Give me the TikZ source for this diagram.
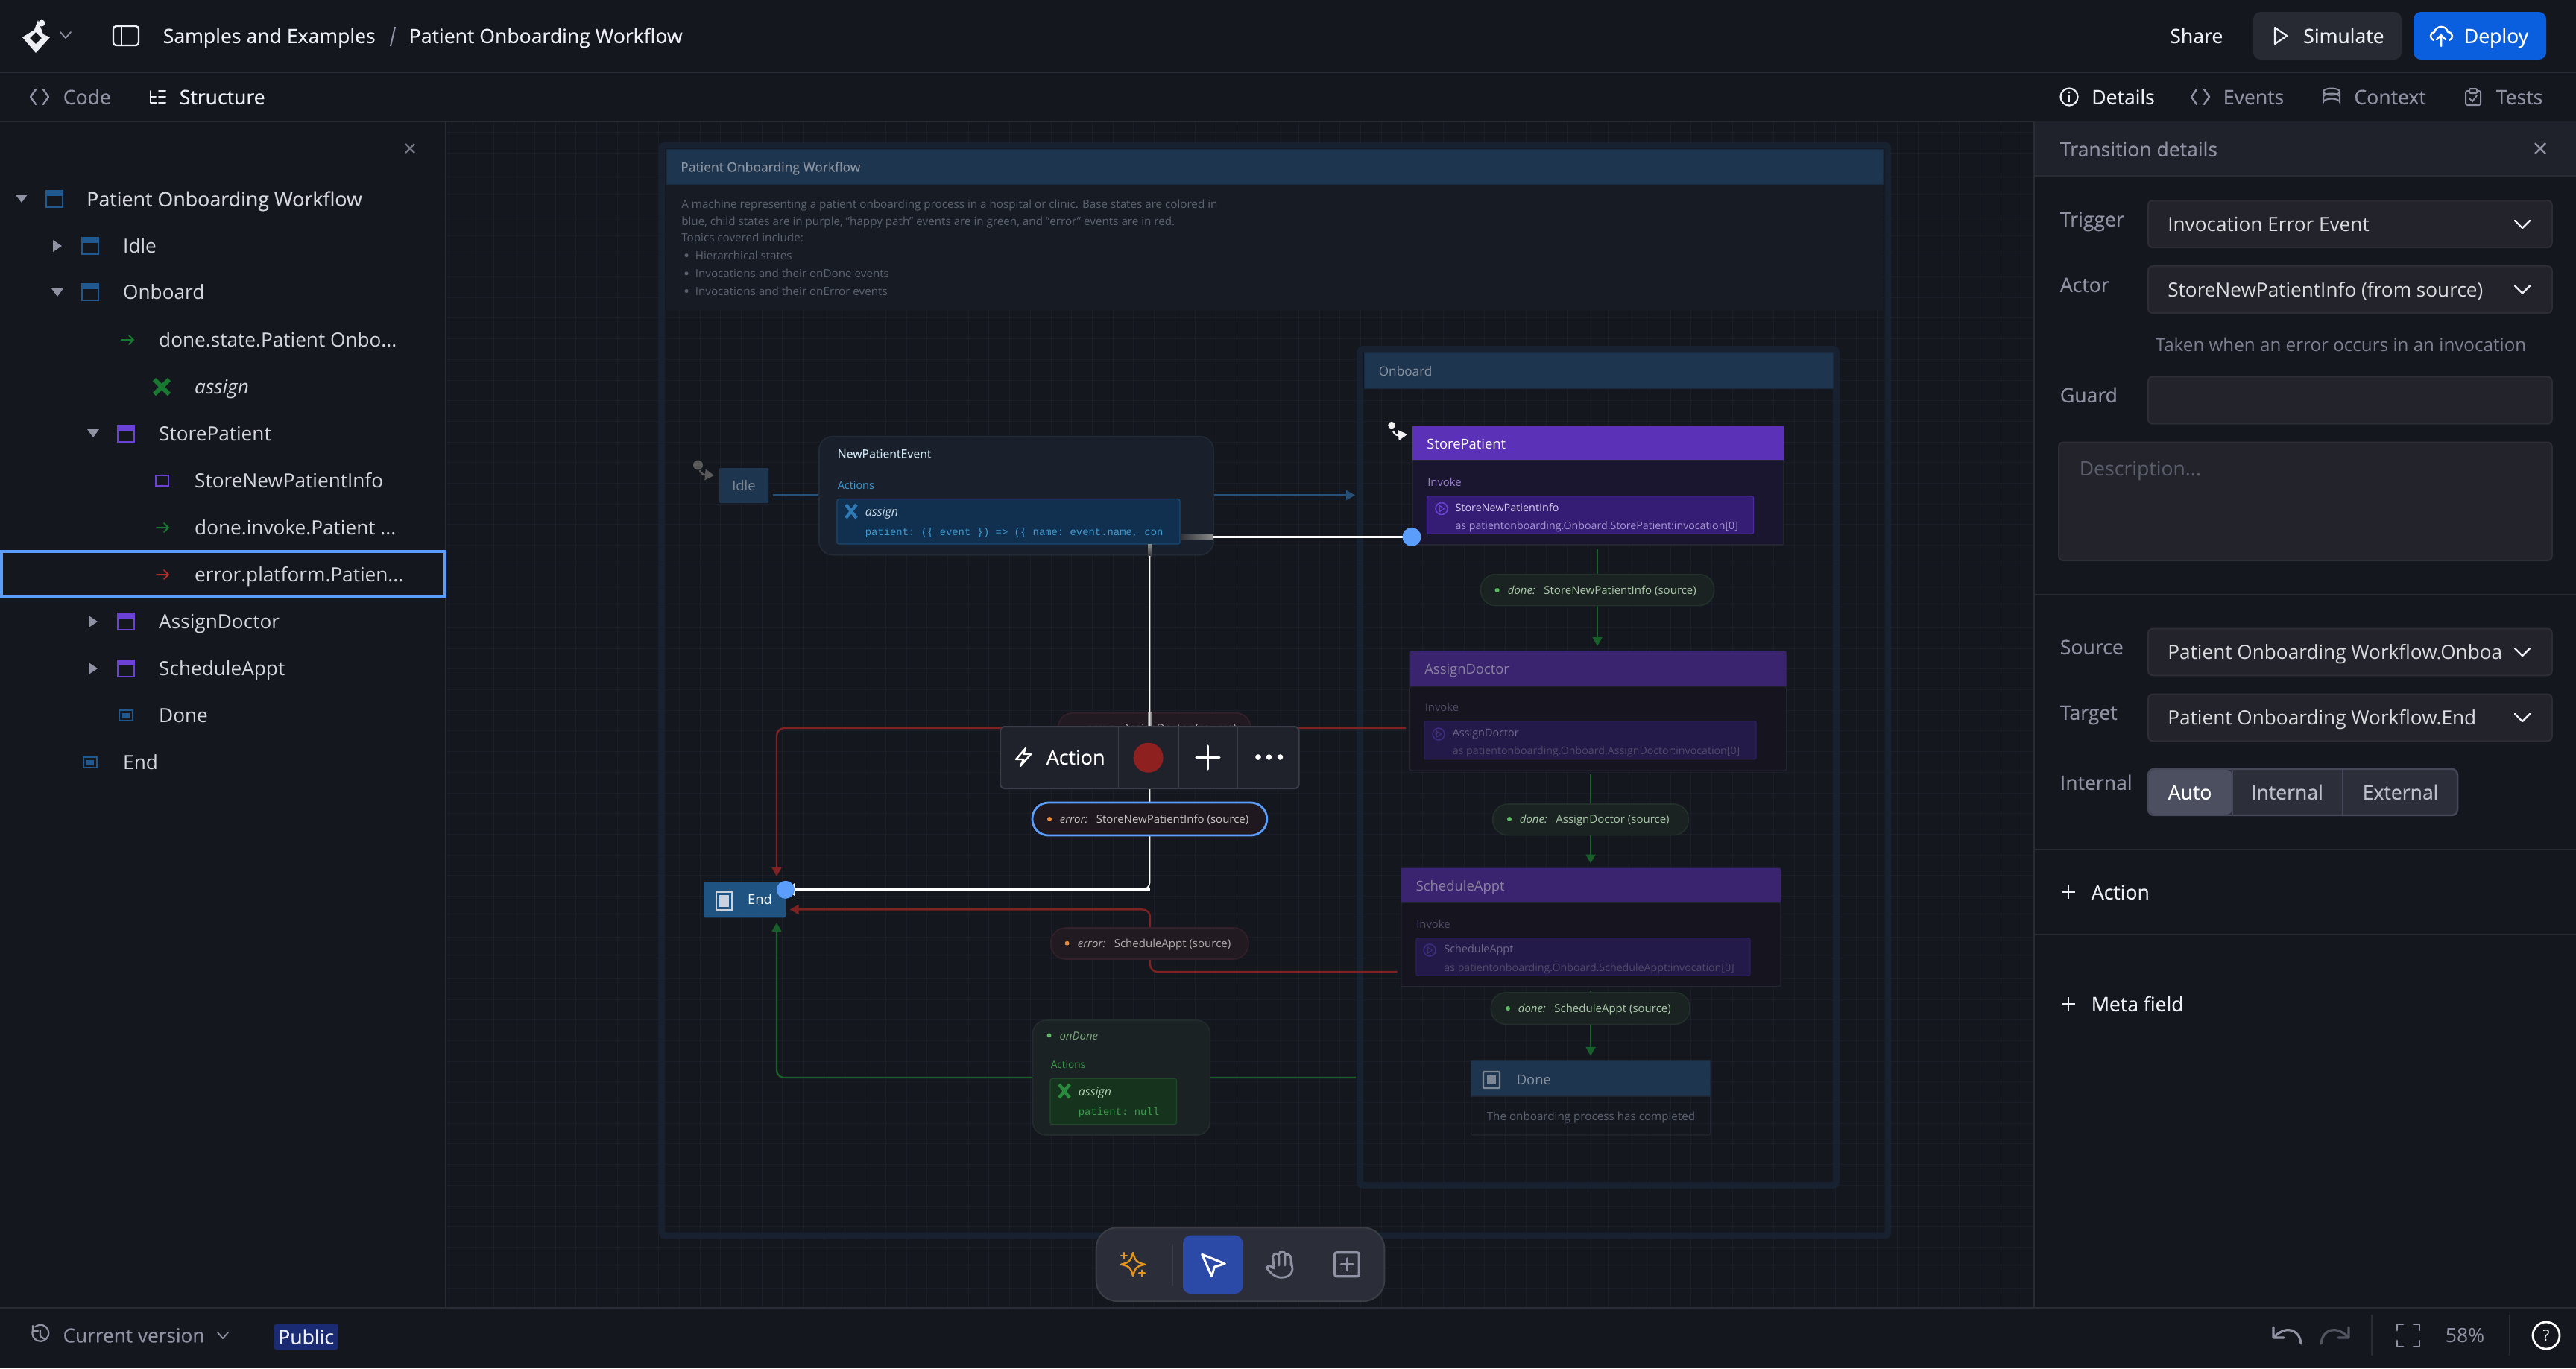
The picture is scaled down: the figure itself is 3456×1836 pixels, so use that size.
\documentclass[tikz,border=0pt]{standalone}
\usepackage{fontspec}
\setmainfont{Open Sans}
\setmonofont{Liberation Mono}
\newfontfamily\medfont[FakeBold=0.35]{Open Sans}
\usetikzlibrary{arrows.meta}

% palette
\definecolor{bgdark}{HTML}{15171F}
\definecolor{gridline}{HTML}{1B1E28}
\definecolor{panelline}{HTML}{2A2C35}
\definecolor{headbar}{HTML}{20222B}
\definecolor{fieldbg}{HTML}{23242B}
\definecolor{fieldline}{HTML}{2C2D35}
\definecolor{uiwhite}{HTML}{EDEFF4}
\definecolor{uidim}{HTML}{8E92A3}
\definecolor{uiholder}{HTML}{5A5D6B}
\definecolor{uihelp}{HTML}{7D8191}
\definecolor{uiblue}{HTML}{5B9DFA}
\definecolor{treeblue}{HTML}{20598F}
\definecolor{treepurple}{HTML}{6A42D8}
\definecolor{treegreen}{HTML}{177A30}
\definecolor{treered}{HTML}{B52B2B}
\definecolor{framedim}{HTML}{182130}
\definecolor{headblue}{HTML}{1E3550}
\definecolor{headtext}{HTML}{8A939F}
\definecolor{descbg}{HTML}{171B24}
\definecolor{desctext}{HTML}{5B6370}
\definecolor{edgeblue}{HTML}{265078}
\definecolor{edgered}{HTML}{7E2222}
\definecolor{edgegreen}{HTML}{17602A}
\definecolor{purplehead}{HTML}{5B31B8}
\definecolor{purplebody}{HTML}{1B1630}
\definecolor{purplebox}{HTML}{351C75}
\definecolor{purpleline}{HTML}{4A2CA0}
\definecolor{purpletext}{HTML}{9A80D0}
\definecolor{purplesub}{HTML}{A597D2}
\definecolor{purpleactor}{HTML}{D7CDF0}
\definecolor{dimhead}{HTML}{3A2470}
\definecolor{dimbody}{HTML}{16151F}
\definecolor{dimbox}{HTML}{241A4A}
\definecolor{dimline}{HTML}{2D2060}
\definecolor{dimtext}{HTML}{4F4A66}
\definecolor{dimtitle}{HTML}{8A84A0}
\definecolor{dimactor}{HTML}{6E6788}
\definecolor{dimplay}{HTML}{3F2C80}
\definecolor{bodyline}{HTML}{232530}
\definecolor{eventbg}{HTML}{1A202B}
\definecolor{eventline}{HTML}{222A36}
\definecolor{eventtitle}{HTML}{CFE4F2}
\definecolor{actionblue}{HTML}{3F9BD1}
\definecolor{assignbg}{HTML}{11304F}
\definecolor{assignline}{HTML}{1B4A73}
\definecolor{assignx}{HTML}{2F7AB5}
\definecolor{assigntext}{HTML}{C9D7E3}
\definecolor{pilldonebg}{HTML}{1A2321}
\definecolor{pilldoneline}{HTML}{222F2A}
\definecolor{pilldonetext}{HTML}{A9C9A9}
\definecolor{pillerrbg}{HTML}{211A20}
\definecolor{pillerrline}{HTML}{33202A}
\definecolor{pillerrtext}{HTML}{B4ACAF}
\definecolor{pillseltext}{HTML}{C9C4C6}
\definecolor{pillselbg}{HTML}{1F191F}
\definecolor{dotgreen}{HTML}{5DBB63}
\definecolor{dotorange}{HTML}{E88A3A}
\definecolor{ondonebg}{HTML}{1B2224}
\definecolor{ondoneline}{HTML}{232C2C}
\definecolor{ondonetext}{HTML}{7FA87F}
\definecolor{actiongreen}{HTML}{3D9A4D}
\definecolor{nullbg}{HTML}{16341D}
\definecolor{nullline}{HTML}{1E4A29}
\definecolor{nullx}{HTML}{2A8A3E}
\definecolor{nulltext}{HTML}{B0D0B0}
\definecolor{endblue}{HTML}{1F5482}
\definecolor{endicon}{HTML}{C9D2DE}
\definecolor{doneicon}{HTML}{7E8794}
\definecolor{barline}{HTML}{3A3D48}
\definecolor{stopred}{HTML}{8F2020}
\definecolor{toolbg}{HTML}{2B2D38}
\definecolor{toolline}{HTML}{3C3D44}
\definecolor{toolblue}{HTML}{2B4AA8}
\definecolor{sparkle}{HTML}{E3941C}
\definecolor{simulatebg}{HTML}{282A33}
\definecolor{deployblue}{HTML}{0A5FDF}
\definecolor{badgeblue}{HTML}{1A2A73}
\definecolor{segbg}{HTML}{2C2E3A}
\definecolor{segline}{HTML}{454859}
\definecolor{segon}{HTML}{4B4F60}
\definecolor{segtext}{HTML}{BDBFCA}

\tikzset{
  fs/.style={font=\fontsize{#1}{#1}\selectfont, text height=0.87*#1pt, text depth=0.13*#1pt},
  lbl/.style={anchor=west, inner sep=0pt, text=uiwhite, fs=6.65},
  med/.style={execute at begin node=\medfont},
  treelabel/.style={lbl, fs=6.55, text=uiwhite!90!black, xshift=-.4pt},
  fieldlabel/.style={lbl, text=uidim, med},
  fieldvalue/.style={lbl, fs=6.55, text=uiwhite!92!black, xshift=-.3pt},
  sized/.style 2 args={minimum width=#1*0.25pt, minimum height=#2*0.25pt, inner sep=0pt, outer sep=0pt, anchor=north west},
  fieldbox/.style={draw=fieldline, fill=fieldbg, rounded corners=1.5pt, line width=.5pt},
  stateframe/.style={draw=framedim, line width=2.2pt, rounded corners=1pt},
  bluehead/.style={fill=headblue, draw=headblue!80!black, line width=.25pt},
  purphead/.style={fill=purplehead, rounded corners=.3pt},
  dimpurphead/.style={fill=dimhead, rounded corners=.3pt},
  actionbox/.style={rounded corners=4.5pt, line width=.4pt},
  pilldone/.style={fill=pilldonebg, draw=pilldoneline, line width=.4pt, rounded corners=5pt},
  pillerror/.style={fill=pillerrbg, draw=pillerrline, line width=.4pt, rounded corners=5pt},
  donetext/.style={lbl, fs=3.75, text=pilldonetext},
  errortext/.style={lbl, fs=3.75, text=pillerrtext},
  edgetip/.style={-{Triangle[length=3pt,width=3.2pt]}},
  edgered/.style={draw=edgered, line width=.6pt, rounded corners=2.5pt, edgetip},
  edgegreen/.style={draw=edgegreen, line width=.6pt, rounded corners=2.5pt, edgetip},
  edgeplain/.style={draw=#1, line width=.6pt},
  selected/.style={draw=white, line width=.7pt, rounded corners=2.5pt},
  icon/.style={line width=.6pt, line cap=round, line join=round},
}

\newcommand{\stateicon}[3]{%
  \draw[#3, line width=.6pt] (#1-11,#2-11) rectangle (#1+11,#2+11);
  \fill[#3] (#1-12,#2-12) rectangle (#1+12,#2-4);
}
\newcommand{\finalicon}[3]{%
  \draw[#3, line width=.6pt] (#1-9,#2-7) rectangle (#1+9,#2+7);
  \fill[#3] (#1-5,#2-3.5) rectangle (#1+5,#2+3.5);
}
\newcommand{\rowarrow}[3]{%
  \draw[#3, icon, line width=.5pt] (#1-8,#2) -- (#1+8,#2) (#1+2,#2-6) -- (#1+8,#2) -- (#1+2,#2+6);
}
\newcommand{\chevron}[3]{%
  \draw[#3, icon] (#1-10,#2-5) -- (#1,#2+5) -- (#1+10,#2-5);
}
\newcommand{\smallchev}[3]{%
  \draw[#3, icon, line width=.45pt] (#1-7,#2-4) -- (#1,#2+4) -- (#1+7,#2-4);
}
\newcommand{\playicon}[3]{%
  \draw[#3, line width=.4pt] (#1,#2) circle (8);
  \draw[#3, line width=.3pt] (#1-2.5,#2-4) -- (#1+3.5,#2) -- (#1-2.5,#2+4) -- cycle;
}
\newcommand{\codeicon}[3]{%
  \draw[#3, icon] (#1-5,#2-10) -- (#1-12,#2) -- (#1-5,#2+10) (#1+5,#2-10) -- (#1+12,#2) -- (#1+5,#2+10);
}
\newcommand{\xicon}[4]{%
  \draw[#3, line width=#4] (#1-7,#2-9) -- (#1+7,#2+9) (#1+7,#2-9) -- (#1-7,#2+9);
}

\begin{document}
\begin{tikzpicture}[x=0.25pt,y=-0.25pt]
    \useasboundingbox (0,0) rectangle (3456,1836);
    \fill[bgdark] (0,0) rectangle (3456,1836);

    % canvas grid
    \foreach \i in {0,...,76}
        \draw[gridline, line width=.25pt] ({606.7+\i*27.7},163) -- ++(0,1592);
    \foreach \j in {0,...,57}
        \draw[gridline, line width=.25pt] (598,{177.6+\j*27.7}) -- ++(2131,0);

    % root machine
    \node[stateframe, sized={1645}{1463}] (rootframe) at (888,195) {};
    \node[fill=descbg, sized={1632}{170}] (rootdesc) at (894,247) {};
    \node[bluehead, sized={1632}{47}] (roothead) at (894,200) {};
    \node[lbl, fs=4.37, text=headtext, med] (roottitle) at (912.5,224) {Patient Onboarding Workflow};
    \foreach \nm/\xx/\yy/\lab in {
        descone/913.5/274/{A machine representing a patient onboarding process in a hospital or clinic. Base states are colored in},
        desctwo/913.5/297/{blue, child states are in purple, "happy path" events are in green, and "error" events are in red.},
        descthree/913.5/318.5/{Topics covered include:},
        descfour/932/342.6/{Hierarchical states},
        descfive/932/366.8/{Invocations and their onDone events},
        descsix/932/390.5/{Invocations and their onError events}}
        \node[lbl, fs=3.8, text=desctext] (\nm) at (\xx,\yy) {\lab};
    \foreach \yy/\nm in {342.6/bulone,366.8/bultwo,390.5/bulthree}
        \fill[desctext] (921,\yy) circle (2.5);

    % onboard frame
    \node[stateframe, sized={639}{1122}] (onboardframe) at (1824.5,468.5) {};
    \node[bluehead, sized={629}{48}] (onboardhead) at (1830,473.5) {};
    \node[lbl, fs=4.3, text=headtext] (onboardtitle) at (1849,498) {Onboard};

    % points where the connectors run out
    \coordinate (idleout) at (1037,664.5);
    \coordinate (onboardin) at (1818,664.5);
    \coordinate (eventin) at (1100,664.5);
    \coordinate (eventout) at (1628,664.5);
    \coordinate (assignout) at (1886,977);
    \coordinate (endtop) at (1042,1176);
    \coordinate (schedout) at (1874.6,1304);
    \coordinate (endright) at (1059.6,1220.4);
    \coordinate (onboardout) at (1819,1446);
    \coordinate (endbottom) at (1042,1238);
    \coordinate (storeout) at (2143,737);
    \coordinate (assignin) at (2143,867);
    \coordinate (doctorout) at (2134,1039);
    \coordinate (schedin) at (2134,1158.5);
    \coordinate (apptout) at (2134,1330);
    \coordinate (donein) at (2134,1416.8);

    % dim connectors
    \draw[edgeplain=edgeblue] (idleout) -- (eventin);
    \draw[edgeplain=edgeblue, edgetip] (eventout) -- (onboardin);
    \draw[edgered] (assignout) -- (1042,977) -- (endtop);
    \draw[edgered] (schedout) -- (1543,1304) -- (1543,1220.4) -- (endright);
    \draw[edgegreen] (onboardout) -- (1042,1446) -- (endbottom);
    \draw[edgegreen] (storeout) -- (assignin);
    \draw[edgegreen] (doctorout) -- (schedin);
    \draw[edgegreen] (apptout) -- (donein);

    % idle
    \node[fill=headblue, rounded corners=.5pt, sized={66}{47}] (idle) at (965,628) {};
    \node[lbl, anchor=center, fs=4.6, text=headtext!110!white] (idletext) at (idle.center) {Idle};
    \fill[gray!70!black] (936.5,624) circle (6.5);
    \draw[gray!70!black, line width=.6pt, -{Triangle[length=3pt,width=3.6pt]}] (939,631) .. controls (941,638) and (947,637) .. (958,638);

    % event box on the first transition
    \node[fill=eventbg, draw=eventline, actionbox, sized={529}{159}] (newpatient) at (1099,585.7) {};
    \node[lbl, fs=3.95, text=eventtitle, med] (newpatienttitle) at (1123,608.6) {NewPatientEvent};
    \node[lbl, fs=3.6, text=actionblue] (newpatientact) at (1123,651) {Actions};
    \node[fill=assignbg, draw=assignline, rounded corners=.7pt, line width=.3pt, sized={460}{60.5}] (assignbox) at (1123,669.5) {};
    \xicon{1142}{686}{assignx}{1.1pt}
    \node[lbl, fs=4, text=assigntext, execute at begin node=\itshape] (assigntext) at (1160,687) {assign};
    \node[lbl, fs=3.47, text=actionblue, execute at begin node=\ttfamily] (assigncode) at (1160,713.5) {patient: (\{ event \}) => (\{ name: event.name, con};

    % onboard children
    \node[purphead, sized={498}{47}] (storehead) at (1895,571) {};
    \node[fill=purplebody, draw=bodyline, line width=.4pt, rounded corners=.4pt, sized={498}{113}] (storebody) at (1895,618) {};
    \node[lbl, fs=4.6, text=white] (storetitle) at (1913.6,596) {StorePatient};
    \node[lbl, fs=3.7, text=purpletext] (storeinvoke) at (1914.5,646.5) {Invoke};
    \node[fill=purplebox, draw=purpleline, rounded corners=.6pt, line width=.3pt, sized={438}{50.6}] (storebox) at (1914.5,665.7) {};
    \playicon{1934}{682.5}{treepurple}
    \node[lbl, fs=3.6, text=purpleactor] (storeactor) at (1951.7,681) {StoreNewPatientInfo};
    \node[lbl, fs=3.55, text=purplesub] (storeas) at (1951.7,705) {as patientonboarding.Onboard.StorePatient:invocation[0]};
    \fill[white!90!gray] (1867,570.6) circle (4.8);
    \draw[white!90!gray, line width=.55pt, -{Triangle[length=3pt,width=3.4pt]}] (1869,578) .. controls (1871,585) and (1876,584) .. (1888,583);

    \node[dimpurphead, sized={505}{47}] (doctorhead) at (1891.6,874) {};
    \node[fill=dimbody, draw=bodyline, line width=.3pt, rounded corners=.4pt, sized={505}{113}] (doctorbody) at (1891.6,921) {};
    \node[lbl, fs=4.6, text=dimtitle] (doctortitle) at (1910.5,898) {AssignDoctor};
    \node[lbl, fs=3.7, text=dimtext] (doctorinvoke) at (1911,949.4) {Invoke};
    \node[fill=dimbox, draw=dimline, rounded corners=.6pt, line width=.3pt, sized={445}{51}] (doctorbox) at (1911,967.8) {};
    \playicon{1930}{985}{dimplay}
    \node[lbl, fs=3.6, text=dimactor] (doctoractor) at (1948,983) {AssignDoctor};
    \node[lbl, fs=3.55, text=dimtext] (doctoras) at (1948,1007) {as patientonboarding.Onboard.AssignDoctor:invocation[0]};

    \node[dimpurphead, sized={509}{47}] (schedhead) at (1880,1164.6) {};
    \node[fill=dimbody, draw=bodyline, line width=.3pt, rounded corners=.4pt, sized={509}{112.5}] (schedbody) at (1880,1211.3) {};
    \node[lbl, fs=4.6, text=dimtitle] (schedtitle) at (1899,1188.7) {ScheduleAppt};
    \node[lbl, fs=3.7, text=dimtext] (schedinvoke) at (1899.5,1239.6) {Invoke};
    \node[fill=dimbox, draw=dimline, rounded corners=.6pt, line width=.3pt, sized={448}{50.5}] (schedbox) at (1900,1258.7) {};
    \playicon{1918}{1275}{dimplay}
    \node[lbl, fs=3.6, text=dimactor] (schedactor) at (1936.6,1273.6) {ScheduleAppt};
    \node[lbl, fs=3.55, text=dimtext] (schedas) at (1936.6,1297.8) {as patientonboarding.Onboard.ScheduleAppt:invocation[0]};

    \node[bluehead, sized={321}{47.7}] (donehead) at (1973.8,1423.3) {};
    \node[draw=bodyline, line width=.3pt, rounded corners=.4pt, sized={321}{52}] (donebody) at (1973.8,1471) {};
    \draw[doneicon, line width=.6pt, rounded corners=.3pt] (1990,1438) rectangle (2012,1460);
    \fill[doneicon] (1995,1443) rectangle (2007,1455);
    \node[lbl, fs=4.6, text=headtext] (donetitle) at (2034,1448.6) {Done};
    \node[lbl, fs=3.8, text=desctext] (donedesc) at (1994,1497.5) {The onboarding process has completed};

    % labels on the green connectors
    \node[pilldone, sized={313}{42}] (pillstore) at (1986.6,770.6) {};
    \fill[dotgreen] (2008.6,792) circle (3);
    \node[donetext] (pillstoretext) at (2022,792) {\textit{done:}\hspace{1.6pt} StoreNewPatientInfo (source)};
    \node[pilldone, sized={262.6}{41.6}] (pilldoctor) at (2002.7,1079) {};
    \fill[dotgreen] (2025,1099) circle (3);
    \node[donetext] (pilldoctortext) at (2038,1099) {\textit{done:}\hspace{1.6pt} AssignDoctor (source)};
    \node[pilldone, sized={266.6}{42.5}] (pillappt) at (2000.4,1331.8) {};
    \fill[dotgreen] (2023,1353) circle (3);
    \node[donetext] (pillappttext) at (2036,1353) {\textit{done:}\hspace{1.6pt} ScheduleAppt (source)};

    % labels on the red connectors
    \node[pillerror, sized={258.5}{42}] (pillassign) at (1419.5,956.7) {};
    \node[errortext] (pillassigntext) at (1457,977) {\textit{error:}\hspace{1.6pt} AssignDoctor (source)};
    \fill[dotorange] (1438,977) circle (3);
    \node[pillerror, sized={265}{42}] (pillsched) at (1409.8,1245) {};
    \fill[dotorange] (1431.6,1265.7) circle (3);
    \node[errortext] (pillschedtext) at (1445,1265.7) {\textit{error:}\hspace{1.6pt} ScheduleAppt (source)};

    % on done box
    \node[fill=ondonebg, draw=ondoneline, actionbox, sized={237.7}{154}] (ondone) at (1385.6,1369) {};
    \fill[dotgreen] (1407.5,1389.4) circle (3);
    \node[lbl, fs=3.75, text=ondonetext, execute at begin node=\itshape] (ondonetitle) at (1420.7,1390) {onDone};
    \node[lbl, fs=3.4, text=actiongreen] (ondoneact) at (1409,1428) {Actions};
    \node[fill=nullbg, draw=nullline, rounded corners=.7pt, line width=.3pt, sized={169.5}{61.3}] (nullbox) at (1409,1447.3) {};
    \xicon{1428}{1464}{nullx}{1.1pt}
    \node[lbl, fs=4, text=nulltext, execute at begin node=\itshape] (nulltitle) at (1446,1465) {assign};
    \node[lbl, fs=3.47, text=actiongreen, execute at begin node=\ttfamily] (nullcode) at (1446,1491.4) {patient: null};

    % end
    \node[fill=endblue, rounded corners=.5pt, sized={110}{48.4}] (endstate) at (944,1183) {};
    \draw[endicon, line width=.7pt] (961,1197) rectangle (982,1221);
    \fill[endicon] (965,1201) rectangle (978,1217);
    \node[lbl, fs=4.6, text=white, xshift=-.4pt] (endtext) at (1004,1207) {End};

    % selected transition
    \coordinate (storein) at (1894,720.4);
    \coordinate (endin) at (1054,1193.8);
    \fill[left color=gray!25!bgdark, right color=gray!90!white] (1583,717) rectangle (1628,723);
    \fill[top color=gray!90!white, bottom color=gray!35!bgdark] (1540,730) rectangle (1545,746);
    \draw[selected] (1628,720.4) -- (storein);
    \draw[selected, line width=.45pt] (1542.5,746) -- (1542.5,1193.8) -- (endin);
    \draw[selected, line width=.7pt] (1542.5,1193.8) -- (endin);
    \fill[white] (1056,1193.8) -- (1066,1185) -- (1066,1202) -- cycle;
    \fill[uiblue] (storein) circle (12.5);
    \fill[uiblue] (endin) circle (12);
    \fill[gray!40!white, opacity=.6] (1540,955) rectangle (1545,975);

    % selected label
    \node[fill=pillselbg, draw=uiblue, line width=.7pt, rounded corners=5.4pt, sized={314.7}{44}] (pillselect) at (1385,1077) {};
    \fill[dotorange] (1408,1099) circle (3);
    \node[errortext, text=pillseltext] (pillselecttext) at (1421,1099) {\textit{error:}\hspace{1.6pt} StoreNewPatientInfo (source)};

    % floating action bar
    \node[fill=headbar, draw=barline, line width=.5pt, rounded corners=1.5pt, sized={400.7}{83}] (actionbar) at (1342,975) {};
    \foreach \xx in {1500.5,1580.8,1660.6}
        \draw[barline, line width=.4pt] (\xx,976) -- (\xx,1057);
    \draw[white, icon] (1376,1004) -- (1363,1019) -- (1373,1019) -- (1369,1028) -- (1383,1012) -- (1373,1012) -- cycle;
    \node[lbl, med, fs=6.7, text=white] (actionlabel) at (1403,1016) {Action};
    \fill[stopred] (1540.6,1016.7) circle (20);
    \draw[white, line width=.8pt, line cap=round] (1605,1016.7) -- (1636,1016.7) (1620.4,1001) -- (1620.4,1032);
    \foreach \xx in {1688,1702.5,1717.5}
        \fill[white] (\xx,1016) circle (3.8);

    % canvas tools
    \node[fill=toolbg, draw=toolline, line width=.5pt, rounded corners=7pt, sized={386.6}{98.7}] (toolbar) at (1470.7,1647.3) {};
    \draw[sparkle, icon] (1520,1681) .. controls (1523,1692) and (1525,1694) .. (1536,1696.7) .. controls (1525,1699) and (1523,1701) .. (1520,1712) .. controls (1517,1701) and (1515,1699) .. (1504,1696.7) .. controls (1515,1694) and (1517,1692) .. cycle;
    \draw[sparkle, icon] (1504,1685) -- (1512,1685) (1508,1681) -- (1508,1689) (1528,1708.5) -- (1536,1708.5) (1532,1704.5) -- (1532,1712.5);
    \draw[toolline, line width=.5pt] (1573,1669) -- (1573,1725);
    \node[fill=toolblue, rounded corners=2.6pt, sized={80.3}{78.3}] (selecttool) at (1587,1657.7) {};
    \draw[white, icon, line width=.75pt] (1612.7,1683.3) -- (1643.3,1695.7) -- (1629.3,1700) -- (1625.7,1712.7) -- cycle;
    \draw[uidim, icon, line width=.7pt] (1732,1689) -- (1734,1703) .. controls (1733,1712) and (1725,1715) .. (1716,1714) .. controls (1710,1713) and (1704,1708) .. (1699,1701) -- (1703,1698) -- (1709,1702) -- (1708,1688) (1708,1686) .. controls (1708,1681) and (1716,1681) .. (1716,1686) -- (1716,1698) (1716,1683) .. controls (1716,1678) and (1724,1678) .. (1724,1683) -- (1724,1698) (1724,1686) .. controls (1725,1681) and (1732,1683) .. (1732,1689) -- (1732,1698);
    \draw[uidim, icon, line width=.8pt, rounded corners=.6pt] (1790.7,1680.7) rectangle (1823.3,1712.7);
    \draw[uidim, icon, line width=.75pt] (1799,1696.7) -- (1815,1696.7) (1807,1688.7) -- (1807,1704.7);

    % left panel
    \fill[bgdark] (0,163) rectangle (598,1755);
    \fill[bgdark] (2729,163) rectangle (3456,1755);
    \draw[panelline, line width=.4pt] (598,163) -- (598,1755);
    \draw[panelline, line width=.4pt] (2729,163) -- (2729,1755);
    \draw[panelline, line width=.5pt] (0,96.7) -- (3456,96.7);
    \draw[panelline, line width=.4pt] (0,163) -- (3456,163);
    \draw[panelline, line width=.4pt] (0,1755) -- (3456,1755);

    % top bar
    \fill[uiwhite, even odd rule] (51,27) -- (58,46) -- (67,50) -- (48,71) -- (30,50) -- (46,40) -- cycle (48,43) -- (56,51) -- (48,59) -- (40,51) -- cycle;
    \fill[uiwhite] (56,31) circle (4.5);
    \smallchev{88}{47}{uidim}
    \draw[uiwhite, line width=.6pt, rounded corners=1pt] (152,35) rectangle (186,61);
    \draw[uiwhite, line width=.6pt] (163,35) -- (163,61);
    \node[lbl, med] (samples) at (218,48) {Samples and Examples};
    \draw[uidim, line width=.5pt] (530,36) -- (524,62);
    \node[lbl, med] (machinename) at (548,48) {Patient Onboarding Workflow};
    \node[lbl, med] (share) at (2910.5,48) {Share};
    \node[fill=simulatebg, rounded corners=2.5pt, sized={199}{64}] (simulate) at (3023,16) {};
    \draw[uiwhite, line width=.55pt, line join=round] (3052,37) -- (3068,48) -- (3052,59) -- cycle;
    \node[lbl, med] (simulatetext) at (3089.5,48) {Simulate};
    \node[fill=deployblue, rounded corners=2.5pt, sized={178}{64}] (deploy) at (3238,16) {};
    \draw[white, icon] (3265,54) .. controls (3259,52) and (3260,43) .. (3266,43) .. controls (3268,34) and (3282,33) .. (3284,43) .. controls (3291,43) and (3292,52) .. (3286,54);
    \draw[white, icon] (3275,62) -- (3275,47) (3269,53) -- (3275,47) -- (3281,53);
    \node[lbl, med, text=white] (deploytext) at (3305,48) {Deploy};

    % tab bar
    \codeicon{53}{130}{uidim}
    \node[lbl, med, text=uidim] (tabcode) at (84,130) {Code};
    \draw[uiwhite, icon, line width=.5pt] (202,122) -- (202,138) -- (210,138) (202,130) -- (209,130) (213,122) -- (222,122) (213,130) -- (222,130) (213,138) -- (222,138);
    \node[lbl, med] (tabstructure) at (240,130) {Structure};
    \draw[uiwhite, line width=.55pt] (2776,130) circle (11.5);
    \fill[uiwhite] (2776,124) circle (1.6);
    \draw[uiwhite, line width=.5pt] (2776,128) -- (2776,137);
    \node[lbl, med] (tabdetails) at (2805.4,130) {Details};
    \codeicon{2952}{130}{uidim}
    \node[lbl, med, text=uidim] (tabevents) at (2982,130) {Events};
    \draw[uidim, line width=.5pt] (3128,123) ellipse (11 and 4.5);
    \draw[uidim, line width=.5pt] (3117,123) -- (3117,137) arc (180:360:11 and 4.5) -- (3139,123);
    \draw[uidim, line width=.5pt] (3117,130) arc (180:360:11 and 4.5);
    \node[lbl, med, text=uidim] (tabcontext) at (3157.6,130) {Context};
    \draw[uidim, line width=.5pt, rounded corners=.6pt] (3308,122) rectangle (3328,141);
    \fill[bgdark] (3312,118) rectangle (3324,126);
    \draw[uidim, line width=.5pt, rounded corners=.3pt] (3313,119) rectangle (3323,125);
    \draw[uidim, line width=.5pt] (3313,132) -- (3317,136) -- (3323,128);
    \node[lbl, med, text=uidim] (tabtests) at (3348,130) {Tests};

    % structure tree
    \draw[uidim!80!black, line width=.6pt] (544,193) -- (556,205) (556,193) -- (544,205);
    \fill[uidim] (20.5,261) -- (37,261) -- (29,272) -- cycle;
    \fill[uidim] (71,322) -- (83,330) -- (71,338) -- cycle;
    \fill[uidim] (69,387) -- (85,387) -- (77,398) -- cycle;
    \fill[uidim] (117,576) -- (133,576) -- (125,587) -- cycle;
    \fill[uidim] (119,826) -- (131,834) -- (119,842) -- cycle;
    \fill[uidim] (119,889) -- (131,897) -- (119,905) -- cycle;
    \stateicon{73}{267}{treeblue}
    \stateicon{121}{330}{treeblue}
    \stateicon{121}{392}{treeblue}
    \stateicon{169}{582}{treepurple}
    \stateicon{169}{834}{treepurple}
    \stateicon{169}{897}{treepurple}
    \finalicon{169}{960}{treeblue}
    \finalicon{121}{1023}{treeblue}
    \rowarrow{171}{456}{treegreen}
    \rowarrow{218}{708}{treegreen}
    \rowarrow{218}{771}{treered}
    \draw[treegreen, line width=1.5pt] (207,509) -- (227,529) (227,509) -- (207,529);
    \draw[treepurple, line width=.4pt] (209,638) rectangle (226,652) (217.5,638) -- (217.5,652);
    \node[treelabel, med, fs=6.7] (rowroot) at (117,267) {Patient Onboarding Workflow};
    \foreach \nm/\xx/\yy/\lab in {
        rowidle/166/330/{Idle},
        rowonboard/166/392/{Onboard},
        rowdone/214/456/{done.state.Patient Onbo...},
        rowstore/214/582/{StorePatient},
        rowactor/262/645/{StoreNewPatientInfo},
        rowinvoke/262/708/{done.invoke.Patient ...},
        rowerror/262/771/{error.platform.Patien...},
        rowdoctor/214/834/{AssignDoctor},
        rowappt/214/897/{ScheduleAppt},
        rowfinish/214/960/{Done},
        rowend/166/1023/{End}}
        \node[treelabel] (\nm) at (\xx,\yy) {\lab};
    \node[treelabel, execute at begin node=\itshape] (rowassign) at (262,519) {assign};
    \draw[uiblue, line width=1pt] (2,740) rectangle (597,800);

    % transition details panel
    \node[fill=headbar, sized={727}{74}] (detailshead) at (2729.5,162.5) {};
    \draw[panelline, line width=.5pt] (2729,236) -- (3456,236);
    \node[lbl, med, text=uidim] (detailstitle) at (2763,200) {Transition details};
    \draw[uidim, line width=.6pt] (3401,192) -- (3415,206) (3415,192) -- (3401,206);

    \node[fieldbox, sized={541.7}{63}] (triggerbox) at (2882,269) {};
    \node[fieldlabel] (triggerlabel) at (2763,294) {Trigger};
    \node[fieldvalue] (triggervalue) at (2908.7,301) {Invocation Error Event};
    \chevron{3384}{301}{uiwhite}
    \node[fieldbox, sized={541.7}{63}] (actorbox) at (2882,357) {};
    \node[fieldlabel] (actorlabel) at (2763,382) {Actor};
    \node[fieldvalue] (actorvalue) at (2908.7,388.5) {StoreNewPatientInfo (from source)};
    \chevron{3384}{388.5}{uiwhite}
    \node[lbl, fs=6.05, text=uihelp] (actorhelp) at (2891,463) {Taken when an error occurs in an invocation};
    \node[fieldbox, sized={541.7}{63.2}] (guardbox) at (2882,505.5) {};
    \node[fieldlabel] (guardlabel) at (2763,530) {Guard};
    \node[fieldbox, sized={661.7}{158.5}] (descbox) at (2762,593.5) {};
    \node[lbl, text=uiholder] (descholder) at (2789,629) {Description...};
    \draw[panelline, line width=.5pt] (2729,797.6) -- (3456,797.6);

    \node[fieldbox, sized={541.7}{62.8}] (sourcebox) at (2882,843.5) {};
    \node[fieldlabel] (sourcelabel) at (2763,868) {Source};
    \begin{scope}
        \clip (2908,845) rectangle (3357.5,905);
        \node[fieldvalue] (sourcevalue) at (2908.7,875) {Patient Onboarding Workflow.Onboard};
    \end{scope}
    \chevron{3384}{875}{uiwhite}
    \node[fieldbox, sized={541.7}{62.8}] (targetbox) at (2882,931.5) {};
    \node[fieldlabel] (targetlabel) at (2763,956) {Target};
    \node[fieldvalue] (targetvalue) at (2908.7,963) {Patient Onboarding Workflow.End};
    \chevron{3384}{963}{uiwhite}
    \node[fieldlabel] (internallabel) at (2763,1050) {Internal};
    \node[fill=segbg, draw=segline, line width=.6pt, rounded corners=2pt, sized={415}{62.2}] (segbox) at (2882,1031.8) {};
    \fill[segon, rounded corners=2pt] (2883,1033) -- (2995,1033) -- (2995,1093) -- (2883,1093) -- cycle;
    \draw[segline, line width=.6pt] (2995,1032) -- (2995,1094) (3143,1032) -- (3143,1094);
    \node[lbl, anchor=center, med, text=white] (segauto) at (2938,1063) {Auto};
    \node[lbl, anchor=center, med, text=segtext] (seginternal) at (3068.4,1063) {Internal};
    \node[lbl, anchor=center, med, text=segtext] (segexternal) at (3220.5,1063) {External};
    \draw[panelline, line width=.5pt] (2729,1139.7) -- (3456,1139.7);
    \draw[uiwhite, line width=.5pt] (2766,1197) -- (2784,1197) (2775,1188) -- (2775,1206);
    \node[lbl, med] (addaction) at (2805,1197) {Action};
    \draw[panelline, line width=.5pt] (2729,1253.8) -- (3456,1253.8);
    \draw[uiwhite, line width=.5pt] (2766,1347) -- (2784,1347) (2775,1338) -- (2775,1356);
    \node[lbl, med] (addmeta) at (2805,1347) {Meta field};

    % footer
    \draw[uidim, icon, line width=.55pt] (44,1785) arc (200:-130:11);
    \draw[uidim, icon, line width=.55pt] (44,1779) -- (44,1786) -- (51,1786) (54,1785) -- (54,1793) -- (60,1797);
    \node[lbl, med, fs=6.55, text=uidim] (version) at (83.8,1791.7) {Current version};
    \smallchev{299}{1792}{uidim}
    \node[fill=badgeblue, rounded corners=1.2pt, sized={86.5}{35.7}] (publicbadge) at (367.4,1776) {};
    \node[lbl, anchor=center, med, text=uiwhite] (publictext) at (publicbadge.center) {Public};
    \draw[uidim, icon, line width=.8pt] (3087,1803) .. controls (3085,1784) and (3068,1778) .. (3052,1793) (3050,1781) -- (3050,1795) -- (3064,1795);
    \draw[uidim!50!bgdark, icon, line width=.8pt] (3114,1803) .. controls (3116,1784) and (3133,1778) .. (3149,1793) (3151,1781) -- (3151,1795) -- (3137,1795);
    \draw[panelline, line width=.5pt] (3182,1764) -- (3182,1819) (3367,1764) -- (3367,1819);
    \draw[uidim, icon, line width=.7pt] (3216,1785) -- (3216,1777) -- (3224,1777) (3238,1777) -- (3246,1777) -- (3246,1785) (3246,1799) -- (3246,1807) -- (3238,1807) (3224,1807) -- (3216,1807) -- (3216,1799);
    \node[lbl, text=uidim] (zoomlevel) at (3280,1792) {58\%};
    \node[circle, draw=white, line width=.7pt, minimum size=9pt, inner sep=0pt, text=white, fs=5.2] (helpbutton) at (3416,1792) {?};
\end{tikzpicture}
\end{document}
